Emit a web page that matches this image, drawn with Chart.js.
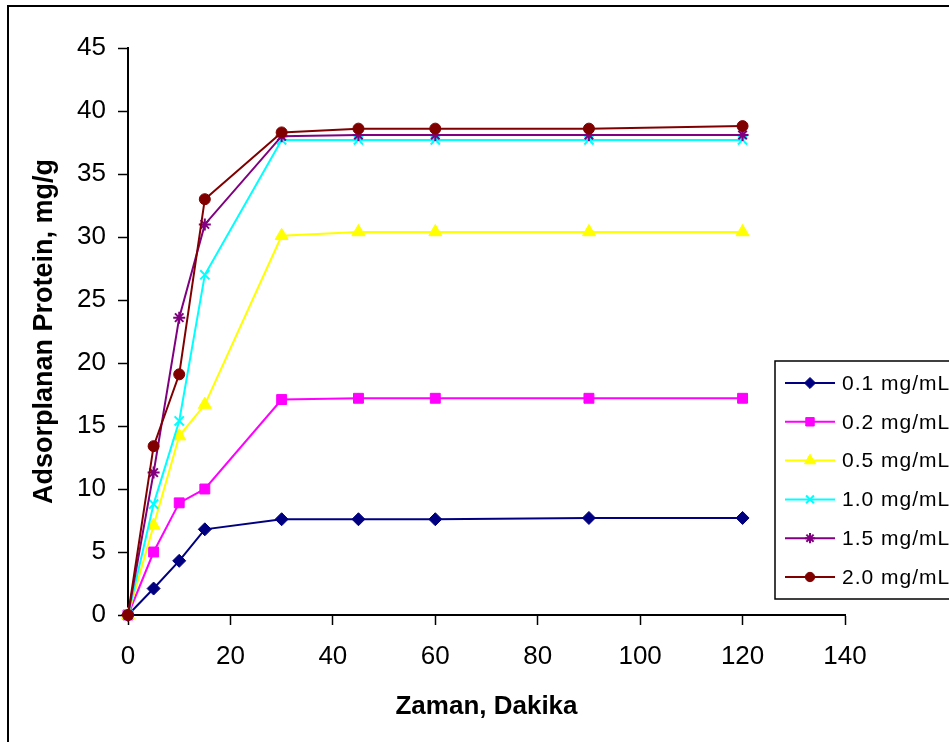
<!DOCTYPE html>
<html>
<head>
<meta charset="utf-8">
<script src="https://cdn.jsdelivr.net/npm/chart.js@4.4.1/dist/chart.umd.min.js"></script>
<style>
  html, body { margin: 0; padding: 0; background: #ffffff; }
  canvas { display: block; }
</style>
</head>
<body>
<canvas id="adsChart" width="949" height="742"></canvas>
<script>
// Adsorpsiyon verileri (okunan degerler)
const times = [0, 5, 10, 15, 30, 45, 60, 90, 120];
const s01 = [0, 2.1, 4.3, 6.8, 7.6, 7.6, 7.6, 7.7, 7.7];
const s02 = [0, 5.0, 8.9, 10.0, 17.1, 17.2, 17.2, 17.2, 17.2];
const s05 = [0, 7.1, 14.2, 16.7, 30.1, 30.4, 30.4, 30.4, 30.4];
const s10 = [0, 8.8, 15.4, 27.0, 37.7, 37.7, 37.7, 37.7, 37.7];
const s15 = [0, 11.3, 23.6, 31.0, 38.0, 38.1, 38.1, 38.1, 38.1];
const s20 = [0, 13.4, 19.1, 33.0, 38.3, 38.6, 38.6, 38.6, 38.8];

const seriesNames = ['0.1 mg/mL', '0.2 mg/mL', '0.5 mg/mL', '1.0 mg/mL', '1.5 mg/mL', '2.0 mg/mL'];
const seriesValues = [s01, s02, s05, s10, s15, s20];
const seriesColors = ['#000080', '#FF00FF', '#FFFF00', '#00FFFF', '#800080', '#800000'];
const seriesMarkers = ['rectRot', 'rect', 'triangle', 'crossRot', 'star', 'circle'];
const markerSizes = [6.5, 7, 7.5, 6.5, 6, 5.5];

const xTicks = { min: 0, max: 140, step: 20 };
const yTicks = { min: 0, max: 45, step: 5 };

const FONT = "'Liberation Sans', Arial, sans-serif";

const datasets = seriesNames.map((name, i) => ({
  label: name,
  data: times.map((t, j) => ({ x: t, y: seriesValues[i][j] })),
  borderColor: seriesColors[i],
  backgroundColor: seriesColors[i],
  pointBackgroundColor: seriesColors[i],
  pointBorderColor: seriesColors[i],
  pointStyle: seriesMarkers[i],
  pointRadius: markerSizes[i],
  pointBorderWidth: (seriesMarkers[i] === 'crossRot' || seriesMarkers[i] === 'star') ? 2 : 1,
  borderWidth: 2,
  tension: 0,
  fill: false,
  showLine: true,
  clip: false,
  order: seriesNames.length - i
}));

// dis cerceve
const framePlugin = {
  id: 'frame',
  beforeDraw(chart) {
    const ctx = chart.ctx;
    ctx.save();
    ctx.fillStyle = '#ffffff';
    ctx.fillRect(0, 0, chart.width, chart.height);
    ctx.strokeStyle = '#000000';
    ctx.lineWidth = 2;
    ctx.strokeRect(8, 6, chart.width + 20, chart.height + 20);
    ctx.restore();
  }
};

// sag taraftaki lejant kutusu
const legendBoxPlugin = {
  id: 'legendBox',
  afterDraw(chart) {
    const ctx = chart.ctx;
    const boxX = 775, boxY = 361, boxH = 238;
    const rowY0 = 383, rowStep = 38.8;
    ctx.save();
    ctx.fillStyle = '#ffffff';
    ctx.fillRect(boxX, boxY, chart.width, boxH);
    ctx.strokeStyle = '#000000';
    ctx.lineWidth = 1.5;
    ctx.strokeRect(boxX, boxY, chart.width, boxH);

    chart.data.datasets.forEach((ds, i) => {
      const y = rowY0 + i * rowStep;
      ctx.strokeStyle = ds.borderColor;
      ctx.lineWidth = 2;
      ctx.beginPath();
      ctx.moveTo(785, y);
      ctx.lineTo(835, y);
      ctx.stroke();

      ctx.fillStyle = ds.pointBackgroundColor;
      ctx.strokeStyle = ds.pointBorderColor;
      ctx.lineWidth = ds.pointBorderWidth;
      Chart.helpers.drawPoint(ctx, {
        pointStyle: ds.pointStyle,
        radius: ds.pointRadius * 0.85,
        rotation: 0,
        borderWidth: ds.pointBorderWidth
      }, 810, y);

      ctx.fillStyle = '#000000';
      ctx.font = '21px ' + FONT;
      ctx.letterSpacing = '1px';
      ctx.textBaseline = 'middle';
      ctx.textAlign = 'left';
      ctx.fillText(ds.label, 842, y + 1);
    });
    ctx.restore();
  }
};

new Chart(document.getElementById('adsChart'), {
  type: 'scatter',
  data: { datasets },
  options: {
    responsive: false,
    animation: false,
    layout: { padding: { left: 8, right: 104, top: 48, bottom: 0 } },
    plugins: {
      legend: { display: false },
      tooltip: { enabled: false }
    },
    scales: {
      x: {
        type: 'linear',
        min: xTicks.min,
        max: xTicks.max,
        afterFit: s => { s.height = 127; },
        ticks: {
          stepSize: xTicks.step,
          color: '#000000',
          font: { family: FONT, size: 26 },
          padding: 16,
          maxRotation: 0
        },
        grid: { drawOnChartArea: false, color: '#000000', tickLength: 10, tickWidth: 1.5 },
        border: { color: '#000000', width: 2 },
        title: {
          display: true,
          text: 'Zaman, Dakika',
          color: '#000000',
          font: { family: FONT, size: 26, weight: 'bold' },
          padding: { top: 0, bottom: 20 }
        }
      },
      y: {
        min: yTicks.min,
        max: yTicks.max,
        afterFit: s => { s.width = 120; },
        ticks: {
          stepSize: yTicks.step,
          color: '#000000',
          font: { family: FONT, size: 26 },
          padding: 12
        },
        grid: { drawOnChartArea: false, color: '#000000', tickLength: 10, tickWidth: 1.5 },
        border: { color: '#000000', width: 2 },
        title: {
          display: true,
          text: 'Adsorplanan Protein, mg/g',
          color: '#000000',
          font: { family: FONT, size: 27, weight: 'bold' },
          padding: { top: 20, bottom: 0 }
        }
      }
    }
  },
  plugins: [framePlugin, legendBoxPlugin]
});
</script>
</body>
</html>
